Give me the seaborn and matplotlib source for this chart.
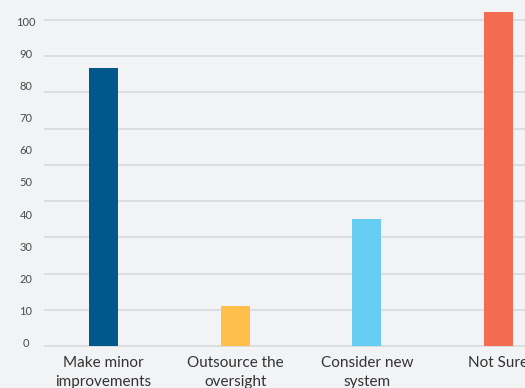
import matplotlib
matplotlib.use("Agg")
import matplotlib.pyplot as plt
import seaborn as sns
import pandas as pd
import numpy as np

categories = ["Make minor\nimprovements", "Outsource the\noversight", "Consider new\nsystem", "Not Sure"]
values = [86.5, 12.5, 39.6, 103.9]
colors = ["#00578c", "#ffbf4a", "#66cdf4", "#f36b50"]
tick_labels = [0, 10, 20, 30, 40, 50, 60, 70, 80, 90, 100]

df = pd.DataFrame({"cat": categories, "val": values})

sns.set_theme(style="white")
plt.rcParams["font.family"] = ["Lato", "DejaVu Sans"]

W, H = 525, 388
fig = plt.figure(figsize=(W / 100, H / 100), dpi=100)
bg = "#f2f3f5"
fig.patch.set_facecolor(bg)

# geometry in pixels
px_per_unit = 3.217
base_px = 346.3
ax_left_px = 44
bottom_px = base_px + 3.2
x0_px, x3_px = 103.5, 498.5
unit_x = (x3_px - x0_px) / 3
xmin = -(x0_px - ax_left_px) / unit_x
xmax = (W - x0_px) / unit_x
ymin = -(bottom_px - base_px) / px_per_unit
ymax = base_px / px_per_unit

ax = fig.add_axes([ax_left_px / W, (H - bottom_px) / H, (W - ax_left_px) / W, bottom_px / H])
ax.set_facecolor(bg)

sns.barplot(data=df, x="cat", y="val", hue="cat", palette=colors, width=0.22,
            legend=False, ax=ax, zorder=3, saturation=1, edgecolor="none", linewidth=0)

ax.set_xlim(xmin, xmax)
ax.set_ylim(ymin, ymax)

# gridlines (rendered with their own spacing)
grid_step = 36.3 / px_per_unit
ax.set_yticks([i * grid_step for i in range(10)], minor=True)
ax.grid(True, which="minor", axis="y", color="#d8d9dc", linewidth=1.2, zorder=0)
ax.grid(False, which="major")

# tick labels (placed with their own spacing)
label_offset = 1.1
ax.set_yticks([t + label_offset for t in tick_labels])
ax.set_yticklabels([str(t) for t in tick_labels], fontsize=8, color="#4a4a4a")
for lbl in ax.get_yticklabels():
    lbl.set_horizontalalignment("center")
ax.tick_params(axis="y", which="both", length=0, pad=13)
ax.tick_params(axis="x", length=0, pad=5, labelsize=11, labelcolor="#333333")
for lbl in ax.get_xticklabels():
    lbl.set_linespacing(1.45)
ax.set_xlabel("")
ax.set_ylabel("")
for s in ax.spines.values():
    s.set_visible(False)

fig.savefig("out.png", dpi=100, facecolor=bg)
